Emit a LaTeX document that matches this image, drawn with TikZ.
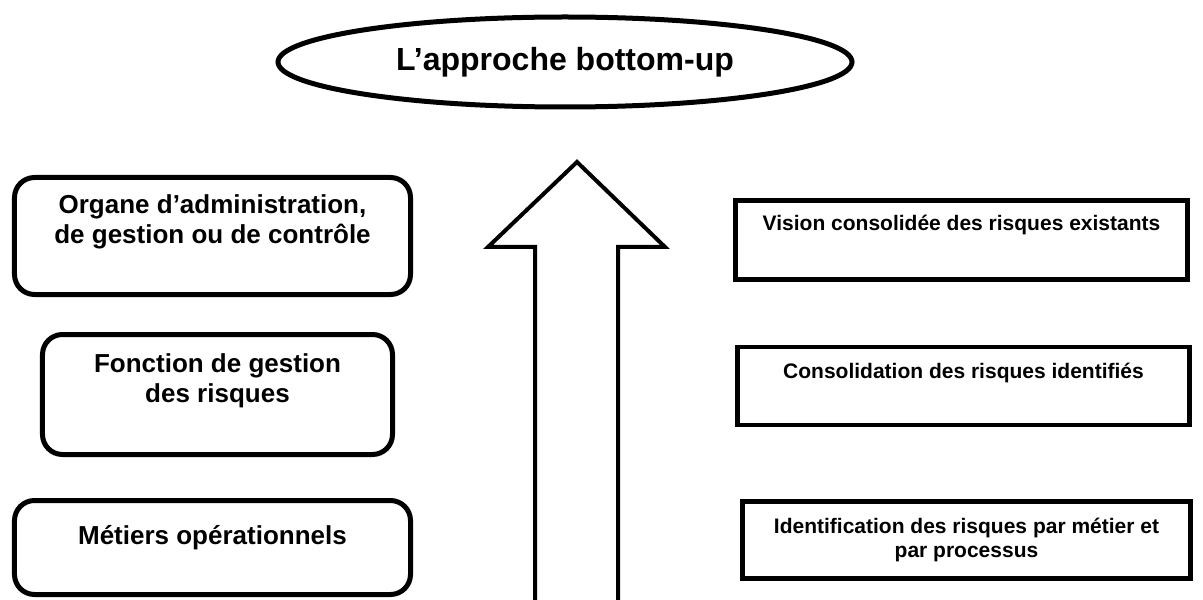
\documentclass[tikz,border=0pt]{standalone}
\usepackage{fontspec}
\setmainfont{Liberation Sans}
\usetikzlibrary{positioning,shapes.geometric,calc}
\tikzset{
	titleoval/.style={draw, ellipse, line width=5bp, inner sep=0pt,
		font=\fontsize{32bp}{38bp}\selectfont\bfseries},
	rolebox/.style={draw, rounded corners=20bp, line width=5bp, align=center,
		font=\fontsize{26bp}{30bp}\selectfont\bfseries},
	stepbox/.style={draw, line width=4.5bp, align=center,
		font=\fontsize{21bp}{24bp}\selectfont\bfseries},
	bigarrow/.style={draw, line width=4bp, line join=miter}
}

\begin{document}
\begin{tikzpicture}[x=1bp, y=-1bp]
	\useasboundingbox (0,0) rectangle (1203,600);
	
	%% -- Title oval (top)
	\node[titleoval, minimum width=574bp, minimum height=90bp] (title)
	at (565,62) {L’approche bottom-up};
	
	%% -- Left column: who does it
	\node[rolebox, minimum width=396bp, minimum height=117bp,
	text depth=33bp] (org) at (212.5,236)
	{Organe d’administration,\\de gestion ou de contrôle};
	
	\node[rolebox, minimum width=350bp, minimum height=120bp,
	text depth=33bp, below=35bp of org, xshift=5bp] (riskfn)
	{Fonction de gestion\\des risques};
	
	\node[rolebox, minimum width=396bp, minimum height=94bp,
	text depth=25bp, below=41bp of riskfn, xshift=-5bp] (ops)
	{Métiers opérationnels};
	
	%% -- Big hollow arrow, bottom to top
	\coordinate (tip) at (577,162);
	\draw[bigarrow]
	($(tip)+(-42,445)$) -- ($(tip)+(-42,85)$) -- ($(tip)+(-89,85)$)
	-- (tip) -- ($(tip)+(88,85)$) -- ($(tip)+(41,85)$) -- ($(tip)+(41,445)$);
	
	%% -- Right column: what comes out
	\node[stepbox, minimum width=452bp, minimum height=79bp,
	text depth=34bp] (vision) at (961.5,240)
	{Vision consolidée des risques existants};
	
	\node[stepbox, minimum width=452bp, minimum height=78bp,
	text depth=30bp, below=63bp of vision, xshift=2bp] (consol)
	{Consolidation des risques identifiés};
	
	\node[stepbox, minimum width=448bp, minimum height=77bp,
	below=72bp of consol, xshift=3bp] (ident)
	{Identification des risques par métier et\\par processus};
	
\end{tikzpicture}
\end{document}
